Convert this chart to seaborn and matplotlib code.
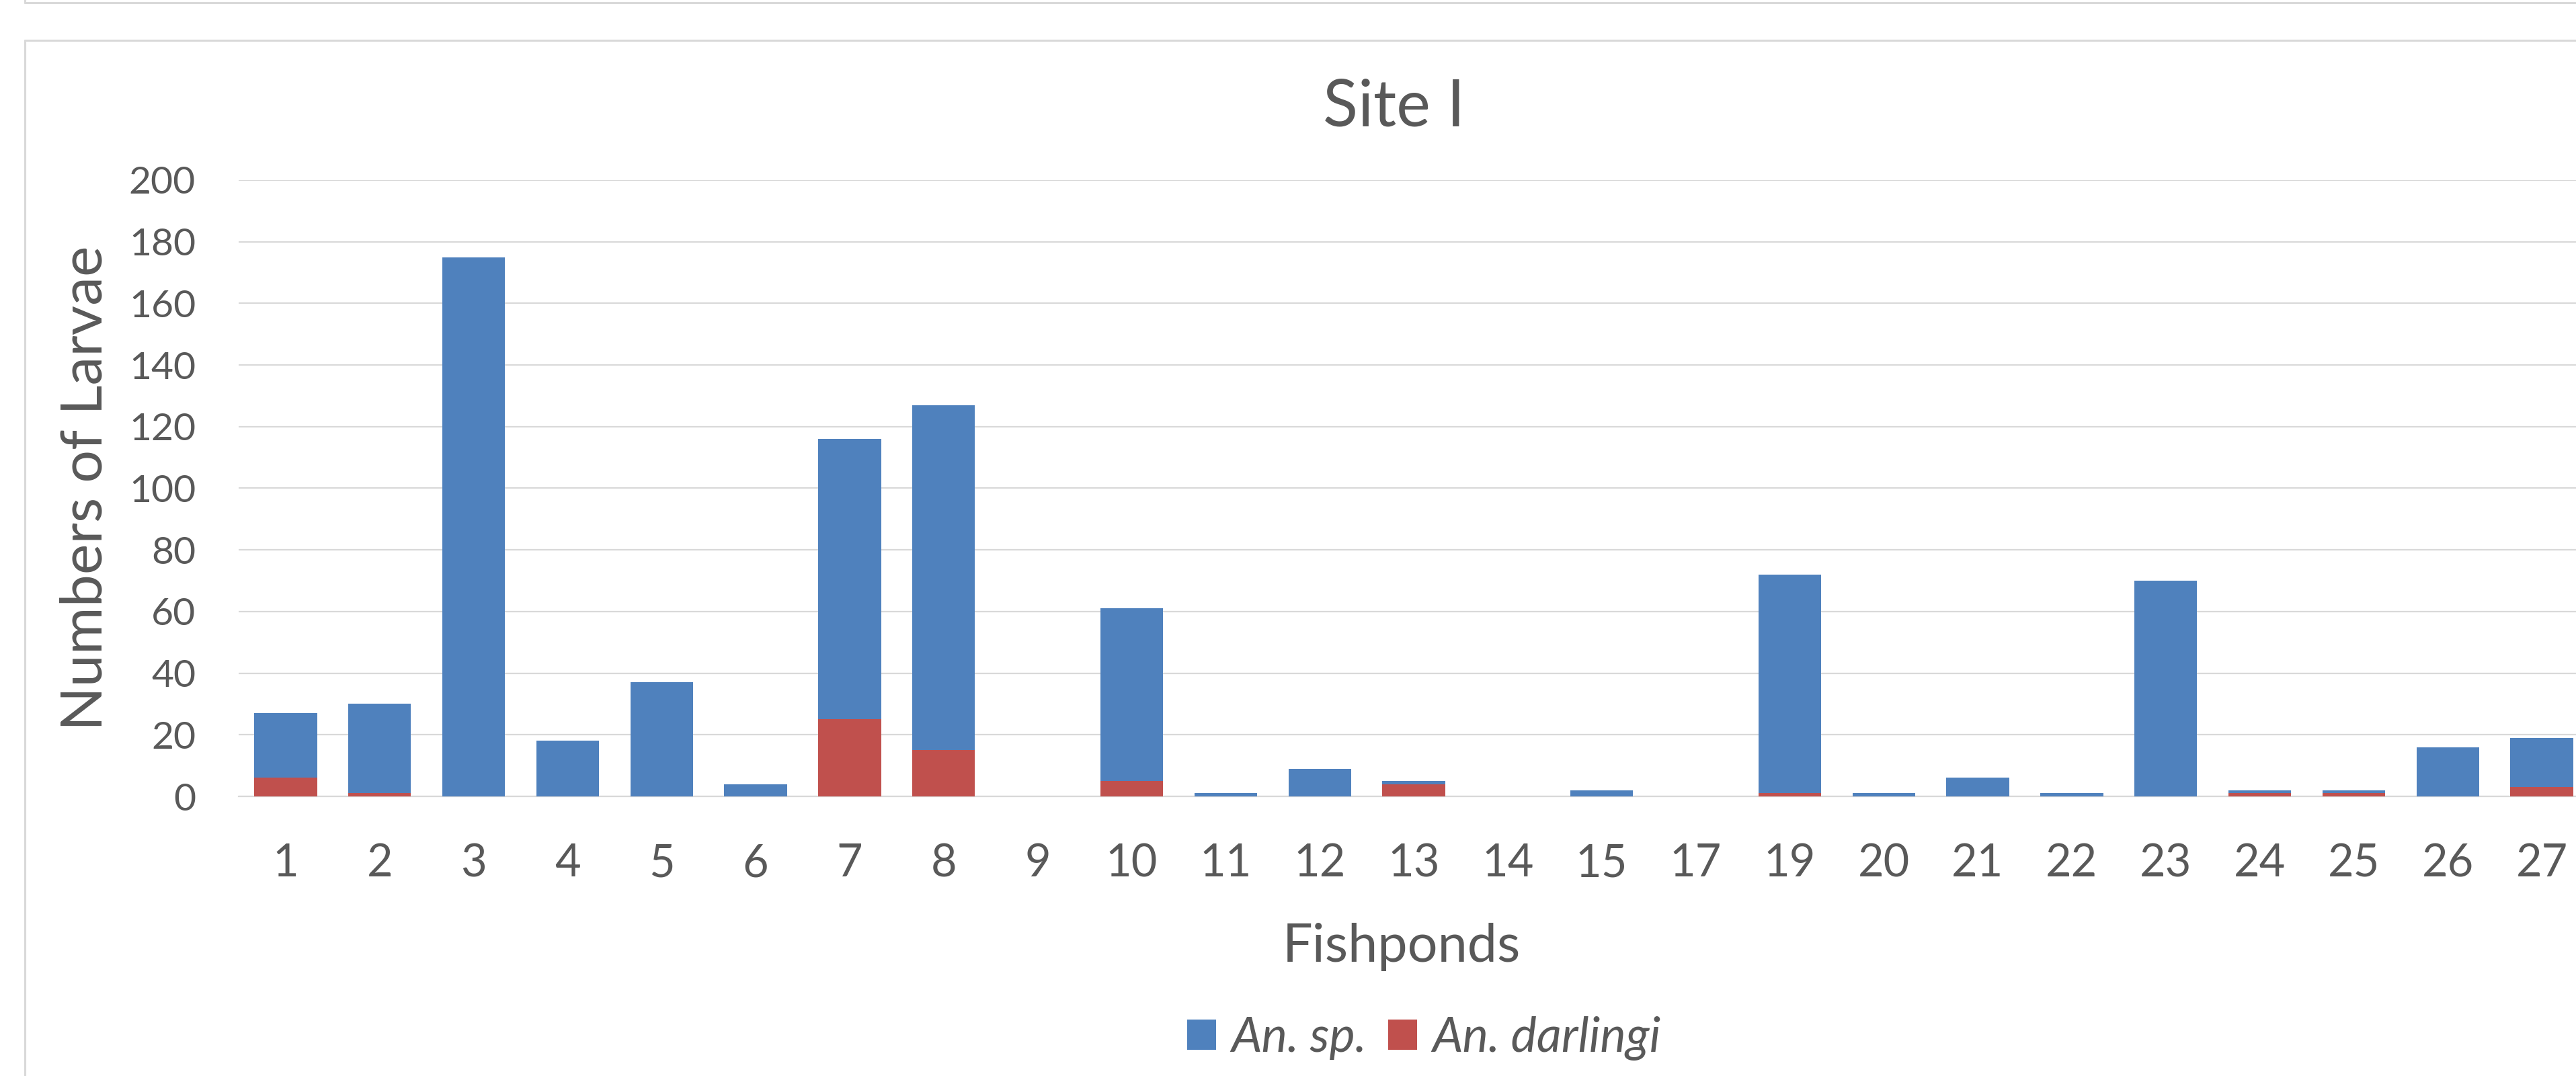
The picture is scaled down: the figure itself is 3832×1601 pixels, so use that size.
import matplotlib
matplotlib.use("Agg")
import matplotlib.pyplot as plt
from matplotlib.lines import Line2D
from matplotlib.patches import Patch
import seaborn as sns
import pandas as pd

# Larvae counts per fishpond at Site I
ponds = ["1", "2", "3", "4", "5", "6", "7", "8", "9", "10", "11", "12", "13",
         "14", "15", "17", "19", "20", "21", "22", "23", "24", "25", "26", "27"]
an_sp = [27, 30, 175, 18, 37, 4, 116, 127, 0, 61, 1, 9, 5,
         0, 2, 0, 72, 1, 6, 1, 70, 2, 2, 16, 19]
an_darlingi = [6, 1, 0, 0, 0, 0, 25, 15, 0, 5, 0, 0, 4,
               0, 0, 0, 1, 0, 0, 0, 0, 1, 1, 0, 3]
series_names = ["An. sp.", "An. darlingi"]
y_ticks = list(range(0, 201, 20))

BLUE = "#4F81BD"
RED = "#C0504D"
TEXT = "#595959"
GRID = "#D9D9D9"

sns.set_theme(style="white")
plt.rcParams["font.family"] = ["Lato", "DejaVu Sans"]

df = pd.DataFrame({"pond": ponds, "sp": an_sp, "darlingi": an_darlingi})

W, H = 3832, 1601
fig = plt.figure(figsize=(W / 100, H / 100), dpi=100)
fig.patch.set_facecolor("white")

# plot area: left edge at x=355 px, zero line at y=1185 px, top (200) at y=268 px
ax_left, ax_right = 355, 3851
ax_top, ax_bottom = 268, 1185
ax = fig.add_axes([ax_left / W, 1 - ax_bottom / H,
                   (ax_right - ax_left) / W, (ax_bottom - ax_top) / H])

# overlapping columns: An. darlingi drawn in front of An. sp.
sns.barplot(data=df, x="pond", y="sp", order=ponds, color=BLUE, saturation=1,
            width=0.667, linewidth=0, ax=ax, zorder=3)
sns.barplot(data=df, x="pond", y="darlingi", order=ponds, color=RED, saturation=1,
            width=0.667, linewidth=0, ax=ax, zorder=4)

ax.set_xlim(-0.5, len(ponds) - 0.5)
ax.set_ylim(0, 200)
ax.set_yticks(y_ticks)
ax.yaxis.grid(True, color=GRID, linewidth=1.6)
ax.xaxis.grid(False)
ax.set_axisbelow(True)
for side in ["top", "right", "left"]:
    ax.spines[side].set_visible(False)
ax.spines["bottom"].set_color(GRID)
ax.spines["bottom"].set_linewidth(1.6)
ax.set_facecolor("none")

ax.tick_params(axis="y", length=0, pad=46, labelsize=41, labelcolor=TEXT)
ax.tick_params(axis="x", length=0, pad=50, labelsize=48, labelcolor=TEXT)

ax.set_ylabel("Numbers of Larvae", fontsize=62, color=TEXT)
ax.yaxis.label.set_va("center")
ax.yaxis.set_label_coords((128 - ax_left) / (ax_right - ax_left), 0.5)
ax.set_xlabel("Fishponds", fontsize=57, color=TEXT)
ax.xaxis.label.set_va("baseline")
ax.xaxis.set_label_coords((2085 - ax_left) / (ax_right - ax_left),
                          -(1431 - ax_bottom) / (ax_bottom - ax_top))

fig.text(2074 / W, 1 - 188 / H, "Site I", ha="center", va="baseline",
         fontsize=69, color=TEXT)

handles = [Patch(facecolor=BLUE, edgecolor="none"), Patch(facecolor=RED, edgecolor="none")]
fig.legend(handles, series_names, loc="center", bbox_to_anchor=(2118 / W, 1 - 1545 / H),
           ncol=2, frameon=False, handlelength=0.6, handleheight=0.6,
           handletextpad=0.3, columnspacing=0.45,
           prop={"style": "italic", "size": 52}, labelcolor=TEXT)

# chart-area borders (this chart and the bottom edge of the one above)
x0 = 37 / W
for ytop in (1 - 4 / H, 1 - 60 / H):
    fig.add_artist(Line2D([x0, 1.01], [ytop, ytop], transform=fig.transFigure,
                          color=GRID, linewidth=2.2))
fig.add_artist(Line2D([x0, x0], [-0.01, 1 - 60 / H], transform=fig.transFigure,
                      color=GRID, linewidth=2.2))
fig.add_artist(Line2D([x0, x0], [1 - 4 / H, 1.01], transform=fig.transFigure,
                      color=GRID, linewidth=2.2))

fig.savefig("out.png", dpi=100, facecolor="white")
